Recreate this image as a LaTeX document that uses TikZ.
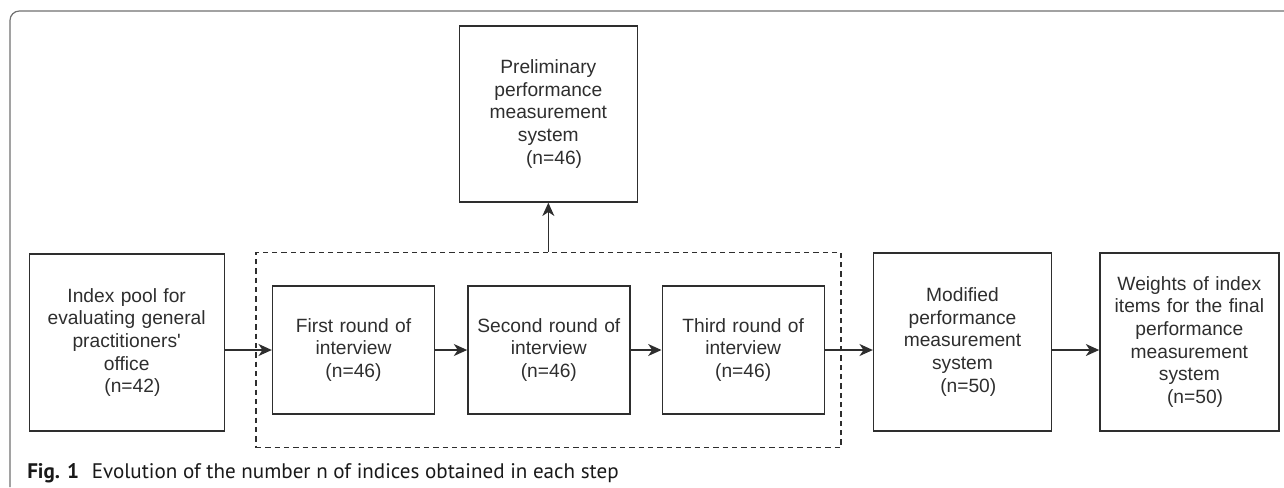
\documentclass[tikz,border=0pt]{standalone}
\usepackage{fontspec}
\setmainfont{Liberation Sans}
\newfontfamily\capfont{PT Sans}
\usepackage{tikz}
\usetikzlibrary{positioning, fit, arrows.meta}
\definecolor{ink}{HTML}{2E2E2E}
\definecolor{framegray}{HTML}{707070}
\tikzstyle{bigbox} = [rectangle, minimum width=133.5pt, minimum height=133.5pt, inner xsep=3pt, text width=126pt, align=center, draw=ink, line width=1pt, text=ink, font=\fontsize{14.4}{17}\selectfont]
\tikzstyle{roundbox} = [rectangle, minimum width=121.5pt, minimum height=96pt, inner xsep=3pt, text width=114pt, align=center, draw=ink, line width=1pt, text=ink, font=\fontsize{14.4}{17}\selectfont]
\tikzstyle{arrow} = [draw=ink, line width=1pt, -{Stealth[length=10pt, width=9pt, inset=3pt]}]

\begin{document}
\begin{tikzpicture}
    \useasboundingbox (0,0) rectangle (963pt,-365.25pt);
    % figure frame
    \draw[framegray, line width=0.9pt, rounded corners=7pt] (7.5pt,-365.25pt) -- (7.5pt,-8.25pt) -- (963pt,-8.25pt);

    \node (first) [roundbox] at (265.125pt,-262.5pt) {First round of\\ interview\\ (n=46)};
    \node (second) [roundbox, right=24pt of first] {Second round of\\ interview\\ (n=46)};
    \node (third) [roundbox, right=23.25pt of second] {Third round of\\ interview\\ (n=46)};
    \node (pool) [bigbox, minimum width=146.25pt, minimum height=132.75pt, text width=138pt, left=35.25pt of first, yshift=5.6pt] {Index pool for\\ evaluating general\\ practitioners\textquotesingle\\ office\\ \hspace*{0.6em}(n=42)};
    \node (round) [fit=(first)(third), inner xsep=12pt, inner ysep=24.75pt, draw=ink, line width=1pt, dash pattern=on 4pt off 3pt] {};
    \node (prelim) [bigbox, minimum height=132pt, above=36.75pt of round] {Preliminary\\ performance\\ measurement\\ system\\ \hspace*{0.6em}(n=46)};
    \node (modified) [bigbox, right=36pt of third, yshift=6pt] {Modified\\ performance\\ measurement\\ system\\ \hspace*{0.6em}(n=50)};
    \node (weights) [bigbox, minimum width=134.25pt, right=35.25pt of modified] {Weights of index\\ items for the final\\ performance\\ measurement\\ system\\ \hspace*{0.6em}(n=50)};

    \draw [arrow] (pool.east |- first) -- (first.west);
    \draw [arrow] (first) -- (second);
    \draw [arrow] (second) -- (third);
    \draw [arrow] (third) -- (modified.west |- third);
    \draw [arrow] (modified.east |- third) -- (weights.west |- third);
    \draw [arrow] (round) -- (prelim);

    \node (caption) [anchor=base west, inner sep=0pt, text=black!90, font=\capfont\fontsize{15.8}{18}\selectfont] at (20.25pt,-358.5pt) {\textbf{Fig. 1}\hspace{0.6em}Evolution of the number n of indices obtained in each step};
\end{tikzpicture}
\end{document}
